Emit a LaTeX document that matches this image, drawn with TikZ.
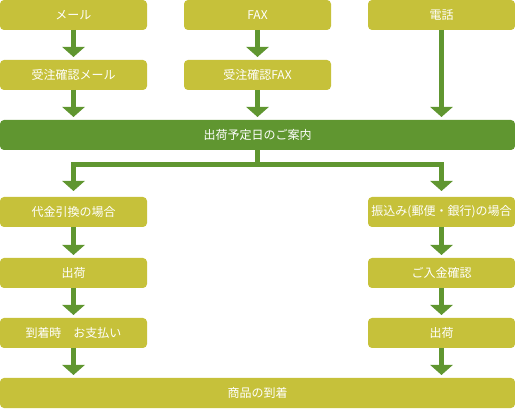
\documentclass[tikz,border=0pt]{standalone}
\usepackage{fontspec}
\newfontfamily\jpfont{Noto Sans CJK JP}
\usepackage{tikz}
\usetikzlibrary{positioning,arrows.meta}
\usepackage{xcolor}
\definecolor{boxolive}{HTML}{C6C13A}
\definecolor{flowgreen}{HTML}{609630}

\begin{document}
\begin{tikzpicture}[
  node distance=30pt and 37pt,
  box/.style={fill=boxolive, rounded corners=4pt, minimum width=147pt, minimum height=30pt, inner sep=0pt, outer sep=0pt, text=white, font=\jpfont\fontsize{12}{14}\selectfont},
  band/.style={box, minimum width=515pt},
  arr/.style={-{Triangle[width=22pt,length=10pt]}, line width=5pt, color=flowgreen, shorten >=3pt}
]
\useasboundingbox (0,0) rectangle (515pt,-409pt);
\node[box, anchor=north west] (mail) at (0,0) {メール};
\node[box, right=of mail] (fax) {FAX};
\node[box, right=of fax] (tel) {電話};
\node[box, below=of mail] (ackmail) {受注確認メール};
\node[box, below=of fax] (ackfax) {受注確認FAX};
\node[band, fill=flowgreen, below=of ackfax] (notice) {出荷予定日のご案内};

% left: cash on delivery
\node[box, below=47pt of notice.south west, anchor=north west] (cod) {代金引換の場合};
\node[box, below=31pt of cod] (shipcod) {出荷};
\node[box, below=of shipcod] (pay) {到着時　お支払い};

% right: bank transfer
\node[box, below=47pt of notice.south east, anchor=north east] (bank) {振込み(郵便・銀行)の場合};
\node[box, below=31pt of bank] (confirm) {ご入金確認};
\node[box, below=of confirm] (shipbank) {出荷};

\node[band, below=30pt of pay.south west, anchor=north west] (arrive) {商品の到着};

\draw[arr] (mail) -- (ackmail);
\draw[arr] (fax) -- (ackfax);
\draw[arr] (ackmail) -- (ackmail |- notice.north);
\draw[arr] (ackfax) -- (notice);
\draw[arr] (tel) -- (tel |- notice.north);

\coordinate (split) at ([yshift=-15pt]notice.south);
\draw[line width=5pt, flowgreen] (notice) -- (split);
\draw[arr, shorten >=6pt] (split) -| (cod);
\draw[arr, shorten >=6pt] (split) -| (bank);

\draw[arr] (cod) -- (shipcod);
\draw[arr] (shipcod) -- (pay);
\draw[arr] (pay) -- (pay |- arrive.north);
\draw[arr] (bank) -- (confirm);
\draw[arr] (confirm) -- (shipbank);
\draw[arr] (shipbank) -- (shipbank |- arrive.north);
\end{tikzpicture}
\end{document}
